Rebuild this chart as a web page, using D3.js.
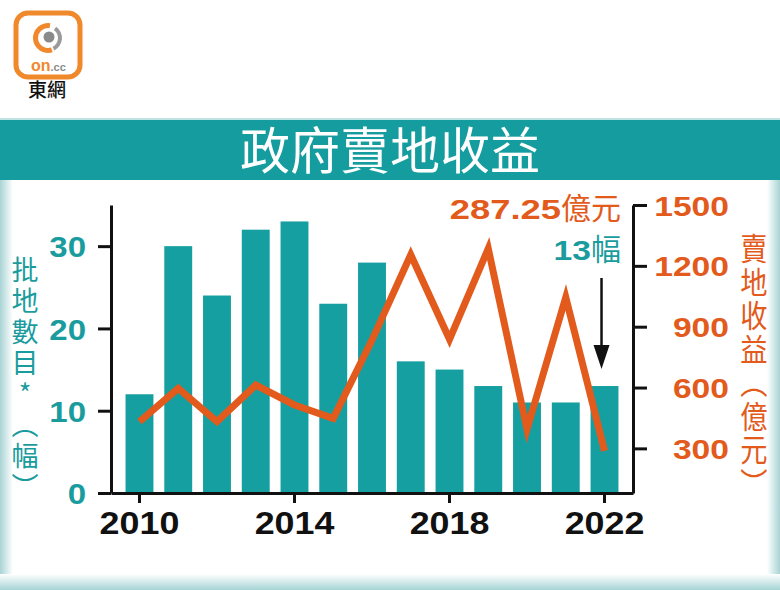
<!DOCTYPE html>
<html><head><meta charset="utf-8">
<script src="https://cdn.jsdelivr.net/npm/d3@7"></script>
<style>
html,body{margin:0;padding:0;background:#fff;}
svg{display:block;}
.vert{writing-mode:vertical-rl;text-orientation:upright;}
</style>
</head><body>
<svg id="c" width="780" height="590"></svg>
<script>
// ---- data ----
const years = [2010,2011,2012,2013,2014,2015,2016,2017,2018,2019,2020,2021,2022];
const plots = [12,30,24,32,33,23,28,16,15,13,11,11,13];
const revenue = [432,596,432,612,514,448,834,1255,838,1285,395,1045,287.25];
const xTicks = [2010,2014,2018,2022];
const leftTicks = [0,10,20,30];
const rightTicks = [300,600,900,1200,1500];
const title = "政府賣地收益";
const leftLabel = "批地數目*（幅）";
const rightLabel = "賣地收益（億元）";
const noteRevenue = ["287.25","億元"];
const notePlots = ["13","幅"];

// ---- styles ----
const TEAL = "#169fa1", TEAL_TXT = "#1a9c9e", ORANGE = "#e25a1c", LOGO_OR = "#f0882c";
const NUM_FONT = "'Liberation Sans', Arial, sans-serif";
const CJK_FONT = "'Noto Sans CJK TC', 'Noto Sans CJK SC', sans-serif";

const svg = d3.select("#c");
const defs = svg.append("defs");
function grad(id, x1,y1,x2,y2, stops){
  const g = defs.append("linearGradient").attr("id",id).attr("x1",x1).attr("y1",y1).attr("x2",x2).attr("y2",y2);
  stops.forEach(s=>g.append("stop").attr("offset",s[0]).attr("stop-color",s[1]));
}
grad("gl","0","0","1","0",[[0,"#a9d3d4"],[1,"#ffffff"]]);
grad("gr","0","0","1","0",[[0,"#ffffff"],[1,"#a9d3d4"]]);
grad("gb","0","0","0","1",[[0,"#ffffff"],[1,"#a6d4d5"]]);

svg.append("rect").attr("width",780).attr("height",590).attr("fill","#fff");
// panel edges
svg.append("rect").attr("x",0).attr("y",180).attr("width",13).attr("height",410).attr("fill","url(#gl)");
svg.append("rect").attr("x",767).attr("y",180).attr("width",13).attr("height",410).attr("fill","url(#gr)");
svg.append("rect").attr("x",0).attr("y",574).attr("width",780).attr("height",16).attr("fill","url(#gb)");

// title band
svg.append("rect").attr("x",0).attr("y",118).attr("width",780).attr("height",2).attr("fill","#bfe3e3");
svg.append("rect").attr("x",0).attr("y",120).attr("width",780).attr("height",60).attr("fill","#149c9e");
svg.append("text").attr("x",390).attr("y",169).attr("text-anchor","middle")
  .attr("font-family",CJK_FONT).attr("font-size",50).attr("font-weight",400)
  .attr("fill","#fff").text(title);

// logo
const logo = svg.append("g");
logo.append("rect").attr("x",16).attr("y",13).attr("width",64).attr("height",64).attr("rx",12)
  .attr("fill","#fff").attr("stroke",LOGO_OR).attr("stroke-width",5);
const arc = d3.arc();
logo.append("path").attr("transform","translate(48,38)")
  .attr("d",arc({innerRadius:10,outerRadius:15,startAngle:Math.PI*0.9,endAngle:Math.PI*2.05})).attr("fill",LOGO_OR);
logo.append("path").attr("transform","translate(48,38)")
  .attr("d",arc({innerRadius:10,outerRadius:14,startAngle:Math.PI*0.2,endAngle:Math.PI*0.85})).attr("fill","#9a9a9a");
logo.append("circle").attr("cx",49).attr("cy",37).attr("r",5.5).attr("fill","#8a8a8a");
const ltxt = logo.append("text").attr("x",31).attr("y",71).attr("font-family",NUM_FONT).attr("font-weight","bold");
ltxt.append("tspan").attr("fill",LOGO_OR).attr("font-size",16).text("on");
ltxt.append("tspan").attr("fill","#8a8a8a").attr("font-size",11).text(".cc");
svg.append("text").attr("x",47).attr("y",97).attr("text-anchor","middle")
  .attr("font-family",CJK_FONT).attr("font-size",19).attr("font-weight",500).attr("fill","#111").text("東網");

// ---- scales ----
const x = d3.scaleBand().domain(years).range([111,633]).paddingInner(0.28).paddingOuter(0.375);
const yL = d3.scaleLinear().domain([0,35]).range([493,205]);
const yR = d3.scaleLinear().domain([80,1500]).range([493,205]);

// bars
svg.append("g").selectAll("rect").data(years).join("rect")
  .attr("x",d=>x(d)).attr("width",x.bandwidth())
  .attr("y",(d,i)=>yL(plots[i])).attr("height",(d,i)=>yL(0)-yL(plots[i]))
  .attr("fill",TEAL);

// line
const line = d3.line().x(d=>x(d[0])+x.bandwidth()/2).y(d=>yR(d[1]));
svg.append("path").datum(years.map((y,i)=>[y,revenue[i]]))
  .attr("d",line).attr("fill","none").attr("stroke",ORANGE).attr("stroke-width",7)
  .attr("stroke-linejoin","miter").attr("stroke-miterlimit",6).attr("stroke-linecap","butt");

// widen digits
function widen(sel, f){
  sel.each(function(){ const w=this.getComputedTextLength(); d3.select(this).attr("textLength",w*f).attr("lengthAdjust","spacingAndGlyphs"); });
}

// axes
const axL = svg.append("g").attr("transform","translate(111,0)")
  .call(d3.axisLeft(yL).tickValues(leftTicks).tickSize(13).tickSizeOuter(0).tickPadding(12));
axL.selectAll("text").attr("font-family",NUM_FONT).attr("font-weight","bold").attr("font-size",30).attr("fill",TEAL_TXT).attr("dy","0.36em");
const axR = svg.append("g").attr("transform","translate(633,0)")
  .call(d3.axisRight(yR).tickValues(rightTicks).tickFormat(d3.format("d")).tickSize(14).tickSizeOuter(0));
axR.selectAll("text").attr("font-family",NUM_FONT).attr("font-weight","bold").attr("font-size",28)
  .attr("fill",ORANGE).attr("text-anchor","end").attr("x",96).attr("dy","0.36em");
const axB = svg.append("g").attr("transform","translate(0,493)")
  .call(d3.axisBottom(x).tickValues(xTicks).tickSize(10).tickSizeOuter(0).tickPadding(8));
axB.selectAll("text").attr("font-family",NUM_FONT).attr("font-weight","bold").attr("font-size",32).attr("fill","#111");
[axL,axR,axB].forEach(a=>{
  a.select(".domain").attr("stroke","#111").attr("stroke-width",3);
  a.selectAll(".tick line").attr("stroke","#111").attr("stroke-width",3);
});
widen(axL.selectAll("text"),1.1);
widen(axR.selectAll("text"),1.2);
widen(axB.selectAll("text"),1.12);

// vertical labels
svg.append("text").attr("class","vert").attr("x",25).attr("y",256)
  .attr("font-family",CJK_FONT).attr("font-size",27).attr("letter-spacing",4).attr("fill",TEAL_TXT).text(leftLabel);
svg.append("g").attr("transform","translate(754,0) scale(0.88,1)")
  .append("text").attr("class","vert").attr("x",0).attr("y",233)
  .attr("font-family",CJK_FONT).attr("font-size",31).attr("letter-spacing",2.5).attr("fill",ORANGE).text(rightLabel);

// annotations
const n1 = svg.append("text").attr("x",621).attr("y",219).attr("text-anchor","end").attr("fill",ORANGE);
n1.append("tspan").attr("font-family",NUM_FONT).attr("font-weight","bold").attr("font-size",28).text(noteRevenue[0]);
n1.append("tspan").attr("font-family",CJK_FONT).attr("font-size",30).text(noteRevenue[1]);
widen(n1.select("tspan"),1.3);
const n2 = svg.append("text").attr("x",621).attr("y",260).attr("text-anchor","end").attr("fill",TEAL_TXT);
n2.append("tspan").attr("font-family",NUM_FONT).attr("font-weight","bold").attr("font-size",28).text(notePlots[0]);
n2.append("tspan").attr("font-family",CJK_FONT).attr("font-size",30).text(notePlots[1]);
widen(n2.select("tspan"),1.2);

// arrow
const ax = x(2022)+x.bandwidth()/2 - 3;
svg.append("line").attr("x1",ax).attr("x2",ax).attr("y1",278).attr("y2",352).attr("stroke","#111").attr("stroke-width",2.5);
svg.append("path").attr("d",`M${ax-8},${345}L${ax+8},${345}L${ax},${369}Z`).attr("fill","#111");
</script>
</body></html>
